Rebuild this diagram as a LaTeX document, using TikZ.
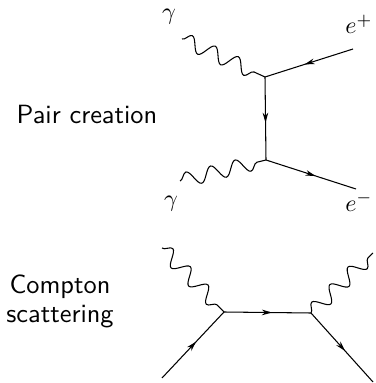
\documentclass[tikz,border=0pt]{standalone}
\usepackage{amsmath,amssymb}
\usetikzlibrary{arrows.meta,decorations.pathmorphing,decorations.markings}
\begin{document}
\begin{tikzpicture}[
    fermion/.style={line width=0.9pt,postaction={decorate},decoration={markings,mark=at position 0.55 with {\arrow{Stealth[length=0.3cm,width=0.17cm]}}}},
    photon/.style={line width=0.9pt,decorate,decoration={snake,amplitude=0.22cm,segment length=0.76cm}},
    lab/.style={scale=2.05,inner sep=0pt},
    proc/.style={font=\sffamily,scale=2.25,align=center,inner sep=0pt}
]
\useasboundingbox (0,0) rectangle (11.25,11.49);
% Pair creation
\coordinate (g1) at (5.46,10.32);
\coordinate (ep) at (10.59,10.02);
\coordinate (v1) at (7.95,9.18);
\coordinate (v2) at (7.98,6.69);
\coordinate (g2) at (5.40,6.06);
\coordinate (em) at (10.68,5.82);
\draw[photon] (g1) -- (v1);
\draw[photon] (g2) -- (v2);
\draw[fermion] (ep) -- (v1);
\draw[fermion] (v1) -- (v2);
\draw[fermion] (v2) -- (em);
\node[lab] (lg1) at (5.07,10.98) {$\gamma$};
\node[lab] (lep) at (10.77,10.76) {$e^+$};
\node[lab] (lg2) at (5.13,5.37) {$\gamma$};
\node[lab] (lem) at (10.77,5.44) {$e^-$};
\node[proc] (pair) at (2.61,8.04) {Pair creation};

% Compton scattering
\coordinate (g3) at (4.86,4.05);
\coordinate (in) at (4.86,0.15);
\coordinate (v3) at (6.72,2.13);
\coordinate (v4) at (9.33,2.10);
\coordinate (g4) at (11.19,3.90);
\coordinate (out) at (11.19,0.03);
\draw[photon] (g3) -- (v3);
\draw[photon] (v4) -- (g4);
\draw[fermion] (in) -- (v3);
\draw[fermion] (v3) -- (v4);
\draw[fermion] (v4) -- (out);
\node[proc] (compton) at (1.80,2.46) {Compton\\[-1pt]scattering};
\end{tikzpicture}
\end{document}
